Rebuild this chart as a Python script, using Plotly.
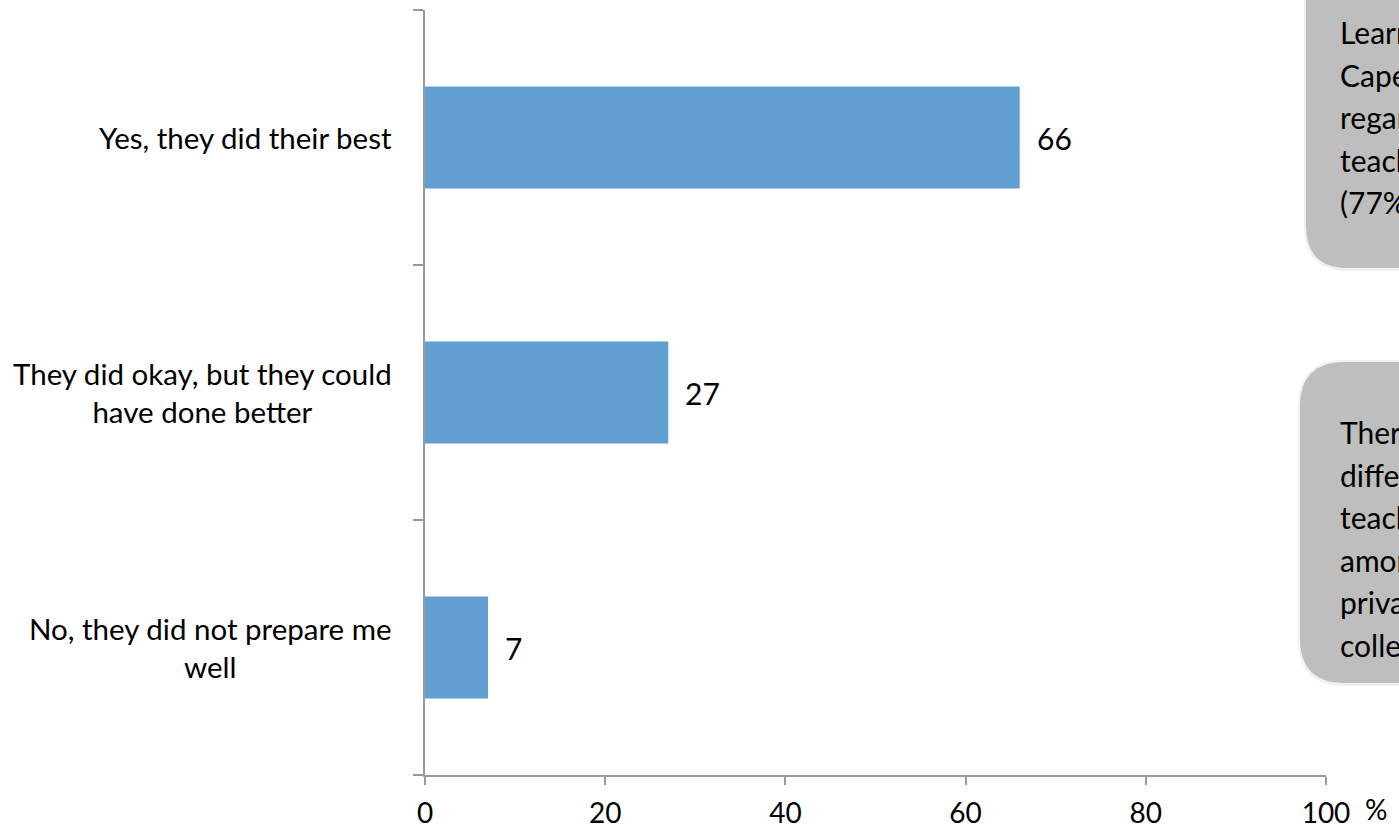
import plotly.graph_objects as go

categories = ["Yes, they did their best",
              "They did okay, but they could<br>have done better",
              "No, they did not prepare me<br>well"]
values = [66, 27, 7]
x_ticks = [0, 20, 40, 60, 80, 100]

box1_lines = ["Learners in the Western", "Cape were more likely to", "regard their", "teachers as doing their best", "(77%)"]
box2_lines = ["There was little", "difference in views of", "teachers' efforts", "among learners in", "private schools and", "colleges"]

FONT = "Lato, Carlito, Calibri, sans-serif"
FS = 30
W, H = 1399, 829
L, R, T, B = 425, 73, 10, 54
PW, PH = W - L - R, H - T - B

ycats = list(range(len(categories)))

fig = go.Figure()
fig.add_trace(go.Bar(
    x=values, y=ycats, orientation="h",
    marker=dict(color="#619FD3", line=dict(width=0)),
    width=0.4, hoverinfo="skip",
))

annotations = []
for i, (c, v) in enumerate(zip(categories, values)):
    annotations.append(dict(x=0, y=i, xref="x", yref="y", text=c, showarrow=False,
                            xanchor="right", yanchor="middle", align="center", xshift=-31,
                            font=dict(family=FONT, size=29.5, color="#000000")))
    annotations.append(dict(x=v, y=i, xref="x", yref="y", text=str(v), showarrow=False,
                            xanchor="left", yanchor="middle", xshift=15,
                            font=dict(family=FONT, size=FS, color="#000000")))

annotations.append(dict(x=(1376 - L) / PW, y=(H - 809 - B) / PH, xref="paper", yref="paper",
                        text="%", showarrow=False, xanchor="center", yanchor="middle",
                        font=dict(family=FONT, size=28, color="#000000")))


def px_to_paper(px, py):
    return (px - L) / PW, (H - py - B) / PH


def rounded_rect(x0, y0, x1, y1, r):
    def p(x, y):
        a, b = px_to_paper(x, y)
        return f"{a:.5f},{b:.5f}"
    path = (f"M {p(x0 + r, y0)} L {p(x1 - r, y0)} Q {p(x1, y0)} {p(x1, y0 + r)} "
            f"L {p(x1, y1 - r)} Q {p(x1, y1)} {p(x1 - r, y1)} "
            f"L {p(x0 + r, y1)} Q {p(x0, y1)} {p(x0, y1 - r)} "
            f"L {p(x0, y0 + r)} Q {p(x0, y0)} {p(x0 + r, y0)} Z")
    return path


shapes = []
for (x0, y0, x1, y1, r) in [(1306, -60, 1500, 268, 42), (1300, 362, 1500, 683, 45)]:
    shapes.append(dict(type="path", xref="paper", yref="paper",
                       path=rounded_rect(x0 - 2, y0 - 2, x1 + 2, y1 + 3, r + 2),
                       fillcolor="rgba(0,0,0,0.06)", line=dict(width=0), layer="below"))
    shapes.append(dict(type="path", xref="paper", yref="paper",
                       path=rounded_rect(x0, y0, x1, y1, r),
                       fillcolor="#BEBEBE", line=dict(width=0), layer="below"))

for lines, ytop in [(box1_lines, 32), (box2_lines, 432)]:
    for k, line in enumerate(lines):
        xp, yp = px_to_paper(1338, ytop + 42.6 * k)
        annotations.append(dict(x=xp, y=yp, xref="paper", yref="paper", text=line,
                                showarrow=False, xanchor="left", yanchor="middle",
                                font=dict(family=FONT, size=FS, color="#000000")))

fig.update_layout(
    width=W, height=H,
    margin=dict(l=L, r=R, t=T, b=B, pad=0, autoexpand=False),
    paper_bgcolor="white", plot_bgcolor="white",
    showlegend=False,
    bargap=0.6,
    annotations=annotations,
    shapes=shapes,
    xaxis=dict(range=[0, 100], tickvals=x_ticks, ticktext=[str(t) for t in x_ticks],
               showgrid=False, zeroline=False, showline=True, linecolor="#999999", linewidth=2,
               ticks="outside", ticklen=8, tickcolor="#999999", tickwidth=2,
               tickfont=dict(family=FONT, size=28, color="#000000"),
               ticklabelstandoff=4, automargin=False, fixedrange=True),
    yaxis=dict(range=[2.5, -0.5], tickvals=[-0.5, 0.5, 1.5, 2.5], ticktext=["", "", "", ""],
               showgrid=False, zeroline=False, showline=True, linecolor="#999999", linewidth=2,
               ticks="outside", ticklen=10, tickcolor="#999999", tickwidth=2,
               automargin=False, fixedrange=True),
)

fig.write_html("out.html")
